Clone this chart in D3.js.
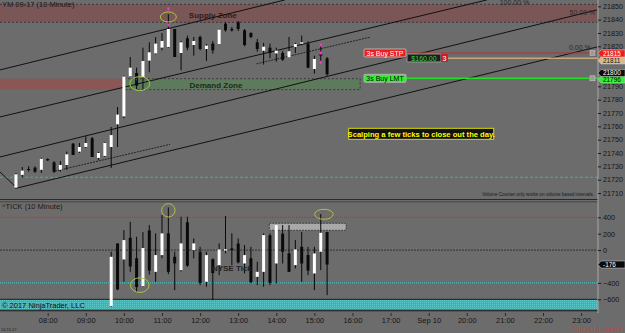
<!DOCTYPE html>
<html>
<head>
<meta charset="utf-8">
<script src="https://cdn.jsdelivr.net/npm/d3@7"></script>
<style>
html, body { margin: 0; padding: 0; background: #6c6c6c; }
svg { display: block; font-family: "Liberation Sans", Arial, sans-serif; }
</style>
</head>
<body>
<div id="chart"></div>
<script>
// x axis labels, one per hour slot (bar-based axis, session gap after 17:00)
const timeLabels = ["08:00", "09:00", "10:00", "11:00", "12:00", "13:00", "14:00", "15:00",
                    "16:00", "17:00", "Sep 10", "20:00", "21:00", "22:00", "23:00"];
const priceTicks = [21710, 21720, 21730, 21740, 21750, 21760, 21770, 21780, 21790, 21820, 21830, 21840, 21850];
const tickTicks = [400, 200, 0, -400, -600];

// YM 09-17 10 minute bars: [open, high, low, close], first bar at 07:10
const priceBars = [
    [21714, 21725, 21713, 21724], [21723.6, 21729.5, 21721.4, 21726.8], [21728, 21730, 21726, 21727.5],
    [21729, 21730, 21725, 21726], [21727.4, 21736.3, 21725, 21735.6], [21735.5, 21736, 21734, 21734.5],
    [21733, 21734, 21725, 21726], [21727.4, 21734, 21726, 21731], [21731, 21741, 21727.4, 21739],
    [21747, 21747.5, 21738.5, 21738.5], [21741, 21747.5, 21740, 21744.5], [21744.5, 21752.6, 21743.7, 21747.5],
    [21751, 21752, 21737, 21737], [21736.3, 21740.7, 21734.9, 21740], [21737.8, 21748, 21737, 21747.5],
    [21744.5, 21759.5, 21728.8, 21753.4], [21761.5, 21774.5, 21744.5, 21768.8], [21767.5, 21798, 21766, 21797.3],
    [21797.5, 21812, 21797, 21804], [21800, 21804, 21788, 21790.5], [21797, 21819, 21788, 21809],
    [21809.3, 21823, 21800.5, 21815.5], [21814.7, 21827, 21814, 21822], [21819, 21830, 21817, 21824],
    [21819.5, 21844, 21819, 21833], [21833, 21833, 21812, 21812], [21815, 21824, 21802, 21823],
    [21826, 21828, 21817, 21819], [21821, 21827, 21813, 21824], [21827, 21828, 21817, 21818],
    [21818, 21821.7, 21809, 21820.5], [21822, 21824, 21814.5, 21817], [21821.7, 21833, 21821.5, 21832.5],
    [21837, 21838, 21831, 21832], [21833, 21834.5, 21831, 21832], [21838, 21839, 21831.5, 21833],
    [21832, 21833, 21820, 21821], [21830, 21830.5, 21826, 21827], [21823, 21825.5, 21816, 21818],
    [21816.7, 21822.6, 21806.3, 21819.7], [21819, 21822, 21811, 21815], [21814.7, 21819, 21808.5, 21816.8],
    [21815, 21816.5, 21809, 21810], [21811.8, 21827, 21811.8, 21816.3], [21819.5, 21822.6, 21815, 21821.7],
    [21822, 21828, 21820.8, 21823], [21822, 21823.7, 21803.6, 21804], [21803, 21813, 21799.5, 21810.5],
    [21814, 21820, 21807.5, 21813], [21811, 21812, 21798, 21799]
];

// ^TICK 10 minute bars: [open, high, low, close], starting at bar 15 (09:40)
const tickFirstBar = 15;
const tickBars = [
    [-683, -20, -691, -82], [80, 82, -488, -480], [-114, 244, -386, 122], [150, 345, -265, -200],
    [-100, 162, -509, -450], [-440, 220, -450, 25], [240, 305, -300, -250], [-265, 204, -386, -61],
    [-61, 427, -100, 204], [204, 520, -293, -265], [-82, -20, -488, -162], [-244, 406, -260, 82],
    [340, 406, -204, -190], [0, 142, -101, 82], [-20, 40, -427, -400], [-386, -20, -447, -61],
    [-110, -101, -610, -280], [-183, 82, -305, 8], [-5, 414, -40, 10], [20, 204, -183, 0],
    [80, 142, -163, -150], [-163, 61, -285, -61], [-100, 40, -406, -390], [-326, -142, -427, -265],
    [-265, 204, -447, 183], [180, 204, -427, -400], [-163, 305, -406, 305], [200, 305, -163, -20],
    [-40, 305, -265, -265], [-183, 122, -223, 8], [40, 223, -386, -163], [-60, 40, -305, -250],
    [-285, 40, -488, -41], [-20, 440, -244, 211], [220, 223, -549, -176]
];

// zones and levels (prices)
const supplyZone = [21838, 21851.5];
const demandZone = [21787.5, 21795.7];
const demandStartBar = 17;
const demandEndBar = 54.2;
const tealLevel = 21721.8;
const buyStop = 21815, buyLimit = 21796, avgPrice = 21811;
const tickLevels = { upper: 400, zero: 0, lower: -400, band: [-720, -600] };
const lastTick = -176;

// hand drawn channel lines: [[bar, price], [bar, price]]
const channelLines = [
    [[-2.51, 21802.3], [42.37, 21854.8]],
    [[-2.51, 21767], [74.18, 21854.8]],
    [[-2.51, 21737], [91.5, 21847.3]],
    [[0.17, 21713.7], [91.5, 21819.5]],
    [[-2.51, 21725.8], [0.17, 21713.7]]
];
const dashedLines = [
    [[6.15, 21726.4], [24.26, 21746.5]],
    [[37.9, 21806.9], [55.8, 21826.9]]
];

const W = 625, H = 333;
const plotRight = 598;

const svg = d3.select("#chart").append("svg")
    .attr("width", W).attr("height", H);

svg.append("rect").attr("width", W).attr("height", H).attr("fill", "#6c6c6c");

const x = d3.scaleLinear().domain([0, 89]).range([15.95, 581.1]);
const yP = d3.scaleLinear().domain([21710, 21850]).range([193, 6.3]);
const yT = d3.scaleLinear().domain([-600, 400]).range([299.3, 217.3]);

const defs = svg.append("defs");
defs.append("clipPath").attr("id", "clipPrice")
    .append("rect").attr("x", 0).attr("y", 0).attr("width", plotRight).attr("height", 198);
const pat = defs.append("pattern").attr("id", "hatch").attr("width", 2).attr("height", 2)
    .attr("patternUnits", "userSpaceOnUse");
pat.append("rect").attr("width", 2).attr("height", 2).attr("fill", "#3fb3b3");
pat.append("rect").attr("width", 1).attr("height", 1).attr("fill", "#5cc8c8");

// ---------- price panel ----------
const gp = svg.append("g").attr("clip-path", "url(#clipPrice)");

// supply zone
gp.append("rect")
    .attr("x", 0).attr("width", plotRight)
    .attr("y", yP(supplyZone[1])).attr("height", yP(supplyZone[0]) - yP(supplyZone[1]))
    .attr("fill", "#7b5656");
supplyZone.forEach(v => gp.append("line")
    .attr("x1", 0).attr("x2", plotRight).attr("y1", yP(v)).attr("y2", yP(v))
    .attr("stroke", "#3a3a3a").attr("stroke-dasharray", "2,2"));
gp.append("text").attr("x", x(31)).attr("y", yP(21841.5))
    .attr("text-anchor", "middle").attr("font-size", 8).attr("font-weight", "bold")
    .attr("fill", "#2b1d1d").text("Supply Zone");

// demand zone: old part red, active part green
gp.append("rect")
    .attr("x", 0).attr("width", x(demandStartBar))
    .attr("y", yP(demandZone[1])).attr("height", yP(demandZone[0]) - yP(demandZone[1]))
    .attr("fill", "#8a5656");
gp.append("rect")
    .attr("x", x(demandStartBar)).attr("width", x(demandEndBar) - x(demandStartBar))
    .attr("y", yP(demandZone[1])).attr("height", yP(demandZone[0]) - yP(demandZone[1]))
    .attr("fill", "#5d7a5d").attr("stroke", "#3a3a3a").attr("stroke-dasharray", "2,2");
gp.append("text").attr("x", x(31.5)).attr("y", yP(21788.8))
    .attr("text-anchor", "middle").attr("font-size", 8).attr("font-weight", "bold")
    .attr("fill", "#1d2b1d").text("Demand Zone");

// teal level
gp.append("line").attr("x1", 0).attr("x2", plotRight)
    .attr("y1", yP(tealLevel)).attr("y2", yP(tealLevel))
    .attr("stroke", "#4fa8a8").attr("stroke-dasharray", "3,2");

// channel lines
gp.selectAll("line.chan").data(channelLines).join("line")
    .attr("class", "chan")
    .attr("x1", d => x(d[0][0])).attr("y1", d => yP(d[0][1]))
    .attr("x2", d => x(d[1][0])).attr("y2", d => yP(d[1][1]))
    .attr("stroke", "#111").attr("stroke-width", 1);
gp.selectAll("line.dash").data(dashedLines).join("line")
    .attr("class", "dash")
    .attr("x1", d => x(d[0][0])).attr("y1", d => yP(d[0][1]))
    .attr("x2", d => x(d[1][0])).attr("y2", d => yP(d[1][1]))
    .attr("stroke", "#222").attr("stroke-dasharray", "2,1");

// fib labels
[["100.00 %", 78.5, 21851], ["50.00 %", 89.2, 21843.5], ["0.00 %", 88.8, 21817]].forEach(t =>
    gp.append("text").attr("x", x(t[1])).attr("y", yP(t[2])).attr("text-anchor", "middle")
        .attr("font-size", 7).attr("fill", "#2a2a2a").text(t[0]));

// candles
function candles(g, data, first, y) {
    const c = g.append("g").selectAll("g").data(data).join("g");
    c.append("line")
        .attr("x1", (d, i) => x(first + i)).attr("x2", (d, i) => x(first + i))
        .attr("y1", d => y(d[1])).attr("y2", d => y(d[2]))
        .attr("stroke", "#0a0a0a").attr("stroke-width", 1);
    c.append("rect")
        .attr("x", (d, i) => x(first + i) - 1.5).attr("width", 3)
        .attr("y", d => y(Math.max(d[0], d[3])))
        .attr("height", d => Math.max(1, Math.abs(y(d[0]) - y(d[3]))))
        .attr("fill", d => d[3] >= d[0] ? "#ffffff" : "#0a0a0a");
}
candles(gp, priceBars, 0, yP);

// signal markers
const ell = "#a9c63c";
gp.append("ellipse").attr("cx", x(24)).attr("cy", yP(21842)).attr("rx", 8).attr("ry", 5)
    .attr("fill", "none").attr("stroke", ell);
gp.append("ellipse").attr("cx", x(19.5)).attr("cy", yP(21792)).attr("rx", 10).attr("ry", 7)
    .attr("fill", "none").attr("stroke", ell);
[[24, 21848], [24, 21836], [48, 21821], [48, 21815], [48, 21808]].forEach(m =>
    gp.append("rect").attr("x", x(m[0]) - 1).attr("y", yP(m[1]) - 1.5)
        .attr("width", 2).attr("height", 3).attr("fill", "#ff33cc"));
[[19, 21793], [20, 21785]].forEach(m =>
    gp.append("text").attr("x", x(m[0])).attr("y", yP(m[1])).attr("text-anchor", "middle")
        .attr("font-size", 6).attr("font-weight", "bold").attr("fill", "#2e8fe0").text("↑"));

// orders
gp.append("line").attr("x1", 406).attr("x2", plotRight).attr("y1", yP(buyStop)).attr("y2", yP(buyStop))
    .attr("stroke", "#b83232");
gp.append("line").attr("x1", 448).attr("x2", plotRight).attr("y1", yP(avgPrice)).attr("y2", yP(avgPrice))
    .attr("stroke", "#c9a675").attr("stroke-width", 1.5);
gp.append("line").attr("x1", 406).attr("x2", plotRight).attr("y1", yP(buyLimit)).attr("y2", yP(buyLimit))
    .attr("stroke", "#22e022").attr("stroke-width", 1.5);

function tag(g, x0, yc, w, fill, txt, color, border) {
    g.append("rect").attr("x", x0).attr("y", yc - 4).attr("width", w).attr("height", 8)
        .attr("rx", 1).attr("fill", fill).attr("stroke", border || "none");
    g.append("text").attr("x", x0 + w / 2).attr("y", yc + 2.6).attr("text-anchor", "middle")
        .attr("font-size", 7).attr("fill", color).text(txt);
}
tag(gp, 364, yP(buyStop), 42, "#f01c1c", "3s Buy STP", "#fff", "#b0b0b0");
tag(gp, 407, yP(buyStop) + 5, 34, "#1e1e1e", "$160.00", "#39d13c", "#999");
tag(gp, 441, yP(buyStop) + 5, 7, "#c82020", "3", "#fff");
tag(gp, 364, yP(buyLimit), 42, "#2ef02e", "3s Buy LMT", "#0a0a0a", "#b0b0b0");
[buyStop, buyLimit].forEach(v => {
    gp.append("rect").attr("x", 590).attr("y", yP(v) - 2.5).attr("width", 5).attr("height", 5)
        .attr("fill", "#9a9a9a").attr("stroke", "#d0d0d0").attr("stroke-width", 0.5);
});

// yellow note
const note = gp.append("g");
note.append("rect").attr("x", x(52.4)).attr("y", yP(21758.5)).attr("width", 145).attr("height", 11)
    .attr("fill", "#111").attr("stroke", "#d8d800");
note.append("text").attr("x", x(52.4) + 72.5).attr("y", yP(21758.5) + 8.2).attr("text-anchor", "middle")
    .attr("font-size", 7.6).attr("font-weight", "bold").attr("fill", "#ffff00")
    .text("Scalping a few ticks to close out the day.");

gp.append("text").attr("x", plotRight - 4).attr("y", 196).attr("text-anchor", "end")
    .attr("font-size", 4.6).attr("fill", "#1a1a1a")
    .text("Volume Counter only works on volume based intervals.");

svg.append("text").attr("x", 2).attr("y", 7).attr("font-size", 7.5).attr("fill", "#1a1a1a")
    .text("YM 09-17 (10 Minute)");

// ---------- panel separator ----------
svg.append("line").attr("x1", 0).attr("x2", plotRight).attr("y1", 199.5).attr("y2", 199.5)
    .attr("stroke", "#2a2a2a").attr("stroke-width", 1.2);
svg.append("line").attr("x1", 0).attr("x2", plotRight).attr("y1", 201.8).attr("y2", 201.8)
    .attr("stroke", "#3a3a3a").attr("stroke-width", 0.8);

// ---------- TICK panel ----------
const gt = svg.append("g");
gt.append("line").attr("x1", 0).attr("x2", plotRight).attr("y1", yT(tickLevels.upper)).attr("y2", yT(tickLevels.upper))
    .attr("stroke", "#a83838").attr("stroke-dasharray", "1,1");
gt.append("line").attr("x1", 0).attr("x2", plotRight).attr("y1", yT(tickLevels.zero)).attr("y2", yT(tickLevels.zero))
    .attr("stroke", "#333").attr("stroke-dasharray", "2,1");
gt.append("line").attr("x1", 0).attr("x2", plotRight).attr("y1", yT(tickLevels.lower)).attr("y2", yT(tickLevels.lower))
    .attr("stroke", "#3ec0c0").attr("stroke-dasharray", "1,1").attr("stroke-width", 1.2);
gt.append("rect").attr("x", 0).attr("width", plotRight)
    .attr("y", yT(tickLevels.band[1])).attr("height", yT(tickLevels.band[0]) - yT(tickLevels.band[1]))
    .attr("fill", "url(#hatch)");
gt.append("line").attr("x1", 0).attr("x2", plotRight).attr("y1", yT(-600)).attr("y2", yT(-600))
    .attr("stroke", "#1a1a1a");
gt.append("line").attr("x1", 0).attr("x2", plotRight).attr("y1", yT(-740)).attr("y2", yT(-740))
    .attr("stroke", "#1a1a1a");

// highlighted range box
gt.append("rect").attr("x", x(39.9)).attr("y", yT(400) + 6).attr("width", x(52) - x(39.9)).attr("height", 7)
    .attr("fill", "#a9a9a9").attr("stroke", "#444").attr("stroke-dasharray", "2,1");

candles(gt, tickBars, tickFirstBar, yT);

gt.append("ellipse").attr("cx", x(24)).attr("cy", yT(485)).attr("rx", 6.7).attr("ry", 6.7)
    .attr("fill", "none").attr("stroke", ell);
gt.append("ellipse").attr("cx", x(19.5)).attr("cy", yT(-427)).attr("rx", 9.3).attr("ry", 7.3)
    .attr("fill", "none").attr("stroke", ell);
gt.append("ellipse").attr("cx", x(48.5)).attr("cy", yT(437)).attr("rx", 9.3).attr("ry", 5)
    .attr("fill", "none").attr("stroke", ell);

gt.append("text").attr("x", x(34)).attr("y", yT(-260)).attr("text-anchor", "middle")
    .attr("font-size", 8).attr("font-weight", "bold").attr("fill", "#222").text("NYSE Tick");
svg.append("text").attr("x", 2).attr("y", 209).attr("font-size", 7.5).attr("fill", "#1a1a1a")
    .text("^TICK (10 Minute)");
svg.append("text").attr("x", 2).attr("y", 308).attr("font-size", 7.5).attr("fill", "#111")
    .text("© 2017 NinjaTrader, LLC");

// ---------- axes ----------
svg.append("line").attr("x1", plotRight).attr("x2", plotRight).attr("y1", 0).attr("y2", 313)
    .attr("stroke", "#a8a8a8");

const axP = svg.append("g").attr("transform", `translate(${plotRight},0)`)
    .call(d3.axisRight(yP).tickValues(priceTicks).tickSize(3).tickFormat(d3.format("d")));
const axT = svg.append("g").attr("transform", `translate(${plotRight},0)`)
    .call(d3.axisRight(yT).tickValues(tickTicks).tickSize(3).tickFormat(d3.format("d")));
[axP, axT].forEach(a => {
    a.select(".domain").remove();
    a.selectAll("line").attr("stroke", "#1a1a1a");
    a.selectAll("text").attr("font-size", 7.2).attr("fill", "#141414")
        .attr("font-family", "Liberation Sans, Arial, sans-serif").attr("x", 5);
});

// price markers on the axis
function axisTag(yv, fill, color, txt) {
    svg.append("path")
        .attr("d", `M${plotRight},${yv} L${plotRight + 3},${yv - 3.5} H${W} V${yv + 3.5} H${plotRight + 3} Z`)
        .attr("fill", fill).attr("stroke", "#cfcfcf").attr("stroke-width", 0.5);
    svg.append("text").attr("x", plotRight + 5).attr("y", yv + 2.3).attr("font-size", 6.4)
        .attr("fill", color).text(txt);
}
axisTag(yP(avgPrice) + 2.2, "#d9b98c", "#1a1a1a", String(avgPrice));
axisTag(yP(buyStop) + 0.4, "#f01c1c", "#fff", String(buyStop));
axisTag(yP(buyLimit) + 1.2, "#2ef02e", "#0a0a0a", String(buyLimit));
axisTag(yP(21800), "#0a0a0a", "#fff", "21800");
axisTag(yT(lastTick), "#0a0a0a", "#fff", String(lastTick));

// time axis
const slot = d3.scaleLinear().domain([0, timeLabels.length - 1]).range([x(5), x(89)]);
const axX = svg.append("g").attr("transform", "translate(0,313)")
    .call(d3.axisBottom(slot).tickValues(d3.range(timeLabels.length)).tickSize(3)
        .tickFormat(i => timeLabels[i]));
axX.select(".domain").remove();
axX.selectAll("line").attr("stroke", "#2a2a2a");
axX.selectAll("text").attr("font-size", 7.5).attr("fill", "#141414").attr("dy", "0.55em")
    .attr("font-family", "Liberation Sans, Arial, sans-serif");

svg.append("text").attr("x", 1).attr("y", 331).attr("font-size", 4).attr("fill", "#222").text("16:15:17");
svg.append("text").attr("x", 623).attr("y", 331).attr("text-anchor", "end").attr("font-size", 5.5)
    .attr("letter-spacing", 0.6).attr("fill", "#d43a3a").text("NINJATRADER®");
</script>
</body>
</html>
